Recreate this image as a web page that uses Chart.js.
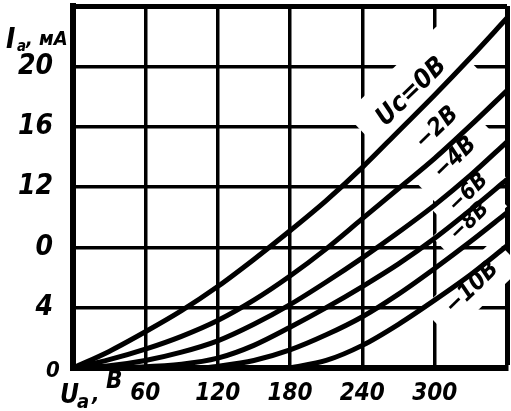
<!DOCTYPE html>
<html>
<head>
<meta charset="utf-8">
<script src="https://cdn.jsdelivr.net/npm/chart.js@4.4.1/dist/chart.umd.min.js"></script>
<style>
    html, body { margin: 0; padding: 0; background: #fff; }
    #wrap { width: 511px; height: 411px; }
</style>
</head>
<body>
<div id="wrap"><canvas id="chart" width="511" height="411"></canvas></div>
<script>
// anode voltage, V  /  anode current, mA
const VOLTS_0 = [0, 30, 60, 90, 120, 150, 180, 210, 240, 270, 300, 330, 360];
const AMPS_0 = [0, 1.1, 2.4, 3.8, 5.4, 7.2, 9.1, 11.1, 13.3, 15.7, 18.1, 20.6, 23.2];

const VOLTS_2 = [0, 30, 60, 90, 120, 150, 180, 210, 240, 270, 300, 330, 360];
const AMPS_2 = [0, 0.55, 1.25, 2.1, 3.15, 4.5, 6.1, 7.9, 9.9, 11.9, 13.9, 16.1, 18.4];

const VOLTS_4 = [0, 30, 60, 90, 120, 150, 180, 210, 240, 270, 300, 330, 360];
const AMPS_4 = [0, 0.15, 0.5, 1.05, 1.8, 2.9, 4.2, 5.7, 7.3, 9.0, 10.8, 12.8, 15.0];

const VOLTS_6 = [40, 90, 120, 150, 180, 210, 240, 270, 300, 330, 360];
const AMPS_6 = [0, 0.25, 0.65, 1.5, 2.7, 4.0, 5.4, 6.9, 8.6, 10.5, 12.5];

const VOLTS_8 = [110, 150, 180, 210, 240, 270, 300, 330, 360];
const AMPS_8 = [0, 0.5, 1.2, 2.2, 3.4, 4.9, 6.6, 8.4, 10.3];

const VOLTS_10 = [180, 210, 240, 270, 300, 330, 360];
const AMPS_10 = [0, 0.5, 1.5, 2.9, 4.5, 6.2, 8.1];

const CURVE_NAMES = ['Uс=0В', '−2В', '−4В', '−6В', '−8В', '−10В'];

const X_TICKS = [60, 120, 180, 240, 300];
const X_LABELS = ['60', '120', '180', '240', '300'];
const Y_TICKS = [4, 8, 12, 16, 20];
const Y_LABELS = ['4', '0', '12', '16', '20'];

const FONT = "'Liberation Sans Narrow', 'DejaVu Sans Condensed', sans-serif";

function toPoints(xs, ys) {
    return xs.map((x, i) => ({ x: x, y: ys[i] }));
}

function makeCurve(name, xs, ys) {
    return {
        label: name,
        data: toPoints(xs, ys),
        borderColor: '#000',
        borderWidth: 5,
        pointRadius: 0,
        fill: false,
        cubicInterpolationMode: 'monotone'
    };
}

// where the curve names sit, in (V, mA); gap/extra = blank paper around them
const LABEL_SPOTS = [
    { v: 281, i: 18.3, size: 26, gap: 60, extra: 40 },
    { v: 302, i: 15.9, size: 24, gap: 46, extra: 40 },
    { v: 317, i: 13.9, size: 24, gap: 46, extra: 40 },
    { v: 328, i: 11.6, size: 22, gap: 30, extra: 30 },
    { v: 329, i: 9.7, size: 22, gap: 30, extra: 30 },
    { v: 331, i: 5.3, size: 24, gap: 40, extra: 36 }
];

function font(size) {
    return 'italic bold ' + size + 'px ' + FONT;
}

const textPlugin = {
    id: 'textPlugin',
    beforeDatasetsDraw(chart) {
        // paper is blank under the curve names: gridlines stop there
        const ctx = chart.ctx;
        const xs = chart.scales.x, ys = chart.scales.y;
        ctx.save();
        ctx.fillStyle = '#fff';
        LABEL_SPOTS.forEach((s, k) => {
            ctx.font = font(s.size);
            let w = ctx.measureText(CURVE_NAMES[k]).width + s.extra;
            ctx.save();
            ctx.translate(xs.getPixelForValue(s.v), ys.getPixelForValue(s.i));
            ctx.rotate(-44 * Math.PI / 180);
            ctx.fillRect(-w / 2, -s.gap / 2, w, s.gap);
            ctx.restore();
        });
        ctx.restore();
    },
    afterDraw(chart) {
        const ctx = chart.ctx;
        const xs = chart.scales.x, ys = chart.scales.y;
        const area = chart.chartArea;
        ctx.save();
        ctx.fillStyle = '#000';
        ctx.textAlign = 'center';
        ctx.textBaseline = 'middle';
        LABEL_SPOTS.forEach((s, k) => {
            ctx.font = font(s.size);
            ctx.save();
            ctx.translate(xs.getPixelForValue(s.v), ys.getPixelForValue(s.i));
            ctx.rotate(-44 * Math.PI / 180);
            ctx.fillText(CURVE_NAMES[k], 0, 0);
            ctx.restore();
        });

        // y title: Iа, мА
        ctx.textAlign = 'left';
        ctx.textBaseline = 'alphabetic';
        ctx.font = font(28);
        ctx.fillText('I', 6, 48);
        ctx.font = font(15);
        ctx.fillText('а', 17, 51);
        ctx.font = font(20);
        ctx.fillText(', мА', 26, 45);

        // corner zero
        ctx.font = font(22);
        ctx.fillText('0', area.left - 27, area.bottom + 9);

        // x title: Uа, В
        ctx.font = font(26);
        ctx.fillText('U', area.left - 13, area.bottom + 35);
        ctx.font = font(20);
        ctx.fillText('а', area.left + 4, area.bottom + 40);
        ctx.font = font(22);
        ctx.fillText(',', area.left + 19, area.bottom + 33);
        ctx.font = font(24);
        ctx.fillText('В', area.left + 33, area.bottom + 20);
        ctx.restore();
    }
};

const ctx = document.getElementById('chart').getContext('2d');

const chart = new Chart(ctx, {
    type: 'line',
    data: {
        datasets: [
            makeCurve(CURVE_NAMES[0], VOLTS_0, AMPS_0),
            makeCurve(CURVE_NAMES[1], VOLTS_2, AMPS_2),
            makeCurve(CURVE_NAMES[2], VOLTS_4, AMPS_4),
            makeCurve(CURVE_NAMES[3], VOLTS_6, AMPS_6),
            makeCurve(CURVE_NAMES[4], VOLTS_8, AMPS_8),
            makeCurve(CURVE_NAMES[5], VOLTS_10, AMPS_10)
        ]
    },
    options: {
        responsive: false,
        animation: false,
        layout: { padding: { top: 6, right: 4, left: 0, bottom: 0 } },
        plugins: {
            legend: { display: false },
            tooltip: { enabled: false }
        },
        scales: {
            x: {
                type: 'linear',
                min: 0,
                max: 360,
                afterFit(scale) {
                    scale.height = 43;
                    scale.paddingLeft = 0;
                    scale.paddingRight = 0;
                },
                afterBuildTicks(scale) {
                    scale.ticks = [0].concat(X_TICKS, [360]).map(v => ({ value: v }));
                },
                ticks: {
                    padding: 11,
                    maxRotation: 0,
                    autoSkip: false,
                    color: '#000',
                    font: { family: FONT, size: 24, style: 'italic', weight: 'bold' },
                    callback(value) {
                        let k = X_TICKS.indexOf(value);
                        return k >= 0 ? X_LABELS[k] : '';
                    }
                },
                grid: {
                    color: '#000',
                    drawTicks: false,
                    lineWidth: c => (c.tick && c.tick.value === 360 ? 5 : 3.5)
                },
                border: { color: '#000', width: 6 }
            },
            y: {
                type: 'linear',
                min: 0,
                max: 24,
                afterFit(scale) {
                    scale.width = 73;
                    scale.paddingTop = 0;
                    scale.paddingBottom = 0;
                },
                afterBuildTicks(scale) {
                    scale.ticks = [0].concat(Y_TICKS, [24]).map(v => ({ value: v }));
                },
                ticks: {
                    padding: 20,
                    autoSkip: false,
                    color: '#000',
                    font: { family: FONT, size: 28, style: 'italic', weight: 'bold' },
                    callback(value) {
                        let k = Y_TICKS.indexOf(value);
                        return k >= 0 ? Y_LABELS[k] : '';
                    }
                },
                grid: {
                    color: '#000',
                    drawTicks: false,
                    lineWidth: c => (c.tick && c.tick.value === 24 ? 5 : 3.5)
                },
                border: { color: '#000', width: 6 }
            }
        }
    },
    plugins: [textPlugin]
});
</script>
</body>
</html>
